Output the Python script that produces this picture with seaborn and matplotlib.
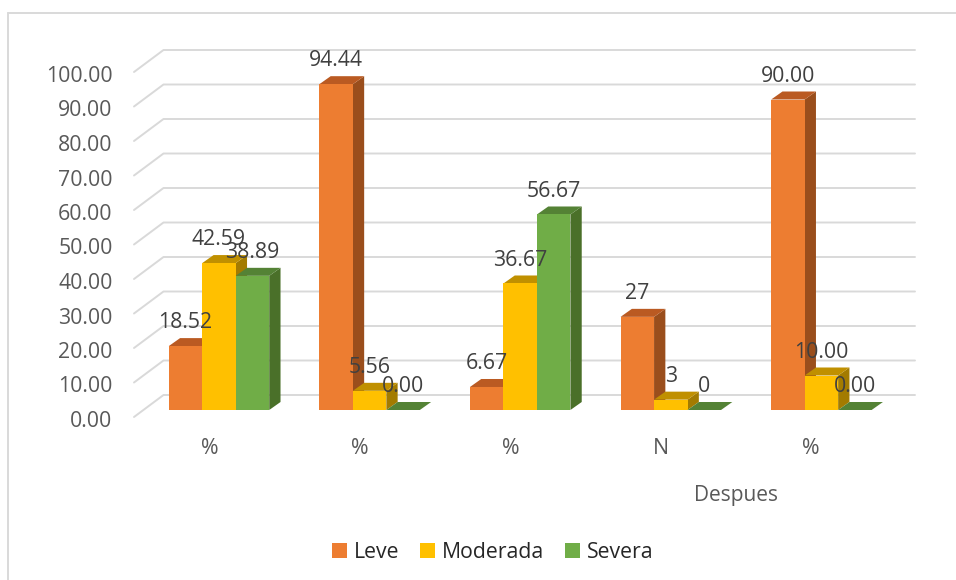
import numpy as np
import pandas as pd
import matplotlib
matplotlib.use("Agg")
import matplotlib.pyplot as plt
from matplotlib.lines import Line2D
from matplotlib.patches import Polygon
from matplotlib.transforms import ScaledTranslation
import seaborn as sns

# Chart content
categories = ["%", "%", "%", "N", "%"]
severities = ["Leve", "Moderada", "Severa"]
leve = [18.52, 94.44, 6.67, 27, 90.00]
moderada = [42.59, 5.56, 36.67, 3, 10.00]
severa = [38.89, 0.00, 56.67, 0, 0.00]
leve_labels = ["18.52", "94.44", "6.67", "27", "90.00"]
moderada_labels = ["42.59", "5.56", "36.67", "3", "10.00"]
severa_labels = ["38.89", "0.00", "56.67", "0", "0.00"]
y_ticks = np.arange(0, 101, 10)
axis_title = "Despues"

# Face colours per series: front, top, side
front_colors = ["#ED7D31", "#FFC000", "#70AD47"]
top_colors = ["#BA5A22", "#C09000", "#548235"]
side_colors = ["#9A4E1C", "#A37B00", "#4A7029"]

W, H, DPI = 956, 580, 100
PX_PER_UNIT = 3.45      # vertical pixels per value unit
PX_PER_GROUP = 150.6    # horizontal pixels per category
LABEL_STEP_PX = 150.15  # category labels run on a slightly tighter pitch
FIRST_GROUP_PX = 219.0
BASE_PY = 410.0
AX_LEFT, AX_RIGHT, AX_TOP = 134.0, 915.0, 30.0
FONT_SIZE = 15.3

sns.set_style("white")
plt.rcParams["font.family"] = ["Open Sans", "DejaVu Sans"]

fig = plt.figure(figsize=(W / DPI, H / DPI), dpi=DPI, facecolor="white")
ax = fig.add_axes([AX_LEFT / W, 1 - BASE_PY / H,
                   (AX_RIGHT - AX_LEFT) / W, (BASE_PY - AX_TOP) / H])

df = pd.DataFrame({
    "group": np.tile(np.arange(len(categories)), len(severities)),
    "severity": np.repeat(severities, len(categories)),
    "value": leve + moderada + severa,
})
sns.barplot(data=df, x="group", y="value", hue="severity",
            hue_order=severities, palette=front_colors, width=0.667, gap=0,
            saturation=1, linewidth=0, ax=ax)

ax.set_xlim((AX_LEFT - FIRST_GROUP_PX) / PX_PER_GROUP,
            (AX_RIGHT - FIRST_GROUP_PX) / PX_PER_GROUP)
ax.set_ylim(0, (BASE_PY - AX_TOP) / PX_PER_UNIT)
ax.patch.set_alpha(0)
sns.despine(ax=ax, left=True, bottom=True)
ax.set_xlabel("")
ax.set_ylabel("")


def dx(px):
    return px / PX_PER_GROUP


def dy(px):
    return px / PX_PER_UNIT


# Receding floor/wall gridlines: short diagonal, then along the back wall
for v in y_ticks:
    xs = [ax.get_xlim()[0], ax.get_xlim()[0] + dx(29.5), ax.get_xlim()[1]]
    ys = [v - dy(7), v + dy(15), v + dy(15)]
    ax.add_line(Line2D(xs, ys, color="#D9D9D9", lw=1.4, zorder=1, clip_on=False,
                       solid_capstyle="round", solid_joinstyle="round"))

# Extrude every bar with a top and a side face, later series in front
DEPTH_X, DEPTH_Y = dx(11.3), dy(8.0)
all_labels = [leve_labels, moderada_labels, severa_labels]
for s, container in enumerate(ax.containers):
    z = 3 + s
    for bar, text in zip(container, all_labels[s]):
        x0, x1 = bar.get_x(), bar.get_x() + bar.get_width()
        h = bar.get_height()
        bar.set_zorder(z + 0.5)
        ax.add_patch(Polygon([(x1, 0), (x1 + DEPTH_X, DEPTH_Y),
                              (x1 + DEPTH_X, h + DEPTH_Y), (x1, h)],
                             closed=True, fc=side_colors[s], ec="none",
                             zorder=z, clip_on=False))
        ax.add_patch(Polygon([(x0, h), (x0 + DEPTH_X, h + DEPTH_Y),
                              (x1 + DEPTH_X, h + DEPTH_Y), (x1, h)],
                             closed=True, fc=top_colors[s], ec="none",
                             zorder=z + 0.2, clip_on=False))
        ax.annotate(text, xy=((x0 + x1) / 2, h), xytext=(0, 16.8),
                    textcoords="offset points", ha="center", va="center",
                    fontsize=FONT_SIZE, color="#404040", zorder=10,
                    annotation_clip=False)

# Value axis labels line up with the front end of the gridlines
ax.set_yticks(y_ticks)
ax.set_yticklabels([f"{v:.2f}" for v in y_ticks], fontsize=FONT_SIZE, color="#595959")
ax.tick_params(axis="y", length=0, pad=15.4)
down = ScaledTranslation(0, -9 / DPI, fig.dpi_scale_trans)
for lab in ax.get_yticklabels():
    lab.set_transform(lab.get_transform() + down)

# Category labels sit left of the bar group centres
ax.set_xticks(np.arange(len(categories)) * dx(LABEL_STEP_PX) - dx(9))
ax.set_xticklabels(categories, fontsize=FONT_SIZE, color="#595959")
ax.tick_params(axis="x", length=0, pad=20)

fig.text(736 / W, 1 - 495 / H, axis_title, fontsize=15, color="#595959",
         ha="center", va="center")

sns.move_legend(ax, "center", bbox_to_anchor=(493 / W, 1 - 552 / H),
                bbox_transform=fig.transFigure, ncol=3, frameon=False,
                title=None, fontsize=FONT_SIZE, handlelength=0.7, handleheight=0.7,
                handletextpad=0.32, columnspacing=0.98, borderpad=0)

# Chart frame along the top and left edges
for xs, ys in (([7.5, W], [12.7, 12.7]), ([7.5, 7.5], [12.7, H])):
    fig.add_artist(Line2D([x / W for x in xs], [1 - y / H for y in ys],
                          color="#D9D9D9", lw=1.4, transform=fig.transFigure))

fig.savefig("out.png", dpi=DPI, facecolor="white")
